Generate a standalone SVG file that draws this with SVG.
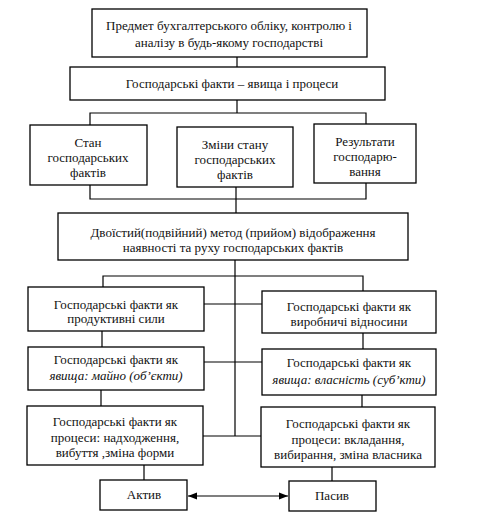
<svg xmlns="http://www.w3.org/2000/svg" width="485" height="521" viewBox="0 0 485 521">
<defs>
<style>
.b{fill:#fff;stroke:#000;stroke-width:1.3}
.t{font-family:'Liberation Serif','Times New Roman',serif;font-size:13px;fill:#111;text-anchor:middle}
.i{font-style:italic}
.c{fill:none;stroke:#000;stroke-width:1.2}
</style>
<marker id="ah" viewBox="0 0 10 10" refX="10" refY="5" markerWidth="9" markerHeight="9" markerUnits="userSpaceOnUse" orient="auto-start-reverse">
<path d="M0,1 L10,5 L0,9 z" fill="#000"/>
</marker>
</defs>
<rect width="485" height="521" fill="#fff"/>
<g id="connectors">
<path class="c" d="M237,57 V67"/>
<path class="c" d="M237,100 V113 M90,125 V113 H366 V124"/>
<path class="c" d="M90,185 V199 H366 V183 M236,187 V213"/>
<path class="c" d="M235,260 V436 M103,287 V276 H363 V291"/>
<path class="c" d="M204,304 H262 M204,362 H262 M203,436 H261"/>
<path class="c" d="M102,331 V347 M101,390 V406 M363,333 V349 M362,395 V407"/>
<path class="c" d="M144,465 V480 M332,467 V481"/>
<path class="c" d="M188,496 H288" marker-start="url(#ah)" marker-end="url(#ah)"/>
</g>
<g id="n1"><rect class="b" x="92" y="9" width="275" height="48"/>
<text class="t" x="229" y="30">Предмет бухгалтерського обліку, контролю і</text>
<text class="t" x="229" y="47">аналізу в будь-якому господарстві</text></g>
<g id="n2"><rect class="b" x="70" y="67" width="315" height="33"/>
<text class="t" x="232" y="88">Господарські факти – явища і процеси</text></g>
<g id="n3a"><rect class="b" x="30" y="125" width="117" height="60"/>
<text class="t" x="88" y="147">Стан</text>
<text class="t" x="88" y="162">господарських</text>
<text class="t" x="88" y="177">фактів</text></g>
<g id="n3b"><rect class="b" x="177" y="127" width="116" height="60"/>
<text class="t" x="235" y="149">Зміни стану</text>
<text class="t" x="235" y="164">господарських</text>
<text class="t" x="235" y="179">фактів</text></g>
<g id="n3c"><rect class="b" x="314" y="124" width="102" height="59"/>
<text class="t" x="365" y="146">Результати</text>
<text class="t" x="365" y="161">господарю-</text>
<text class="t" x="365" y="176">вання</text></g>
<g id="n4"><rect class="b" x="58" y="213" width="350" height="47"/>
<text class="t" x="233" y="237">Двоїстий(подвійний) метод (прийом) відображення</text>
<text class="t" x="233" y="252">наявності та руху господарських фактів</text></g>
<g id="n5a"><rect class="b" x="28" y="287" width="176" height="44"/>
<text class="t" x="116" y="309">Господарські факти як</text>
<text class="t" x="116" y="323">продуктивні сили</text></g>
<g id="n5b"><rect class="b" x="262" y="291" width="174" height="42"/>
<text class="t" x="349" y="311">Господарські факти як</text>
<text class="t" x="349" y="326">виробничі відносини</text></g>
<g id="n6a"><rect class="b" x="28" y="347" width="176" height="43"/>
<text class="t" x="116" y="364">Господарські факти як</text>
<text class="t i" x="116" y="380">явища: майно (об’єкти)</text></g>
<g id="n6b"><rect class="b" x="262" y="349" width="174" height="46"/>
<text class="t" x="349" y="367">Господарські факти як</text>
<text class="t i" x="349" y="384">явища: власність (суб’кти)</text></g>
<g id="n7a"><rect class="b" x="27" y="406" width="176" height="59"/>
<text class="t" x="115" y="426">Господарські факти як</text>
<text class="t" x="115" y="442">процеси: надходження,</text>
<text class="t" x="115" y="457">вибуття ,зміна форми</text></g>
<g id="n7b"><rect class="b" x="261" y="407" width="174" height="60"/>
<text class="t" x="348" y="428">Господарські факти як</text>
<text class="t" x="348" y="444">процеси: вкладання,</text>
<text class="t" x="348" y="459">вибирання, зміна власника</text></g>
<g id="n8a"><rect class="b" x="100" y="480" width="87" height="30"/>
<text class="t" x="144" y="499">Актив</text></g>
<g id="n8b"><rect class="b" x="289" y="481" width="87" height="30"/>
<text class="t" x="332" y="500">Пасив</text></g>
</svg>
